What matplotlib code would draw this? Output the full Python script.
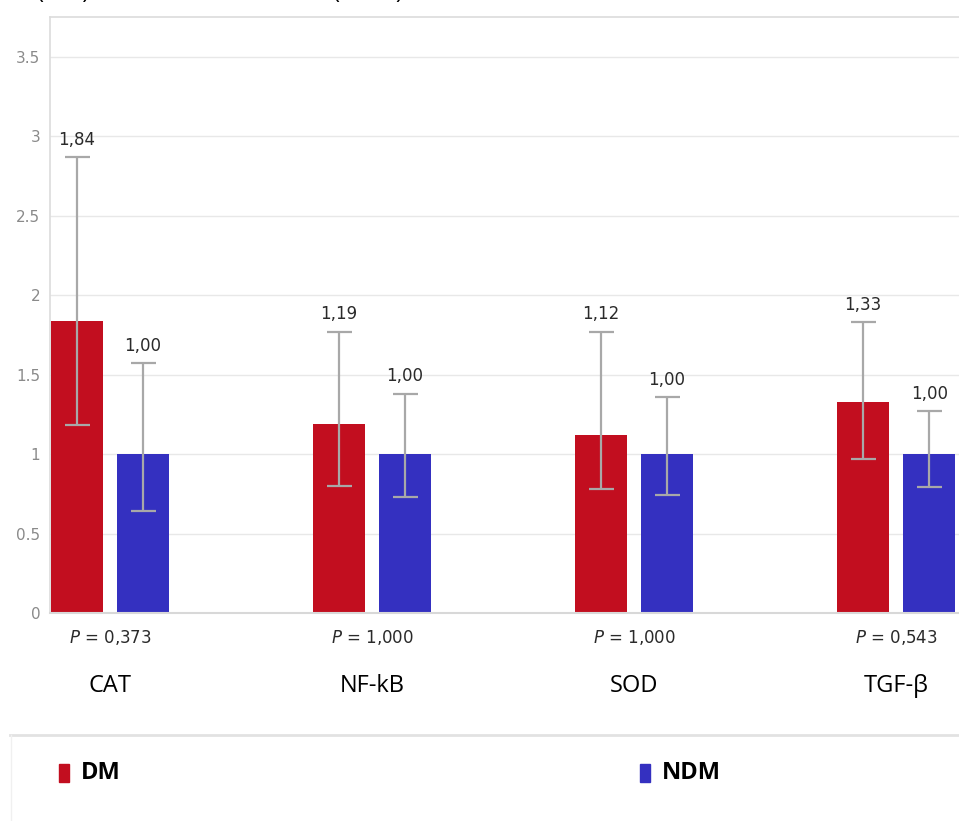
import matplotlib.pyplot as plt
import numpy as np
from matplotlib.lines import Line2D
from matplotlib.patches import Rectangle

genes = ["CAT", "NF-kB", "SOD", "TGF-β"]
p_values = ["0,373", "1,000", "1,000", "0,543"]

dm_mean = [1.84, 1.19, 1.12, 1.33]
dm_err_low = [1.18, 0.80, 0.78, 0.97]
dm_err_high = [2.87, 1.77, 1.77, 1.83]

ndm_mean = [1.00, 1.00, 1.00, 1.00]
ndm_err_low = [0.64, 0.73, 0.74, 0.79]
ndm_err_high = [1.57, 1.38, 1.36, 1.27]

yticks = [0, 0.5, 1, 1.5, 2, 2.5, 3, 3.5]
ytick_labels = ["0", "0.5", "1", "1.5", "2", "2.5", "3", "3.5"]

red = "#c20e1f"
blue = "#3430c0"
grid_col = "#e8e8e8"
err_col = "#a8a8a8"

fig = plt.figure(figsize=(9.59, 8.21), dpi=100)
ax = fig.add_axes([50 / 959, 1 - 613 / 821, 1 - 50 / 959, (613 - 17) / 821])

x = np.arange(len(genes))
w = 0.198
off = 0.126

for xs, mean, lo, hi, col in [(x - off, dm_mean, dm_err_low, dm_err_high, red),
                              (x + off, ndm_mean, ndm_err_low, ndm_err_high, blue)]:
    mean = np.array(mean)
    ax.bar(xs, mean, width=w, color=col, zorder=2)
    yerr = np.array([mean - np.array(lo), np.array(hi) - mean])
    ax.errorbar(xs, mean, yerr=yerr, fmt="none", ecolor=err_col, elinewidth=1.6,
                capsize=9, capthick=1.6, zorder=3)
    for xi, top, m in zip(xs, hi, mean):
        ax.annotate(f"{m:.2f}".replace(".", ","), (xi, top), xytext=(0, 6),
                    textcoords="offset points", ha="center", va="bottom",
                    fontsize=12, color="#2a2a2a", family="DejaVu Sans")

ax.set_xlim(-0.229, 3.24)
ax.set_ylim(0, 3.75)
ax.set_yticks(yticks)
ax.set_yticklabels(ytick_labels, family=["Liberation Sans Narrow", "DejaVu Sans"],
                   fontsize=11, color="#8a8a8a")
ax.tick_params(axis="y", length=0, pad=7)
ax.set_xticks([])
ax.grid(axis="y", color=grid_col, linewidth=1, zorder=0)
ax.set_axisbelow(True)
for side in ["left", "top"]:
    ax.spines[side].set_color("#dcdcdc")
    ax.spines[side].set_linewidth(1.2)
ax.spines["right"].set_visible(False)
ax.spines["bottom"].set_color("#d8d8d8")
ax.spines["bottom"].set_linewidth(1.5)

# p-values and gene names under each group
for xi, g, p in zip(x, genes, p_values):
    ax.annotate(f"$P$ = {p}", (xi, 0), xytext=(0, -11), textcoords="offset points",
                ha="center", va="top", fontsize=12, color="#2a2a2a",
                family="DejaVu Sans")
    ax.annotate(g, (xi, 0), xytext=(0, -44), textcoords="offset points",
                ha="center", va="top", fontsize=17, color="black",
                family="Open Sans")

# header line, mostly above the top edge
fig.text(37 / 959, 1.003, "(DM)", fontsize=17, family="Open Sans", va="baseline")
fig.text(333 / 959, 1.003, "(NDM)", fontsize=17, family="Open Sans", va="baseline")

# legend panel
fig.add_artist(Line2D([10 / 959, 1], [1 - 735 / 821] * 2, color="#e2e2e2", lw=2))
fig.add_artist(Line2D([11 / 959] * 2, [0, 1 - 735 / 821], color="#f0f0f0", lw=1))
for lx, label, col in [(59, "DM", red), (640, "NDM", blue)]:
    fig.add_artist(Rectangle((lx / 959, 1 - 782 / 821), 10 / 959, 18 / 821,
                             color=col, transform=fig.transFigure))
    fig.text((lx + 22) / 959, 1 - 773 / 821, label, fontsize=17, fontweight="bold",
             family="Open Sans", va="center", color="black")

fig.savefig("out.png", dpi=100)
